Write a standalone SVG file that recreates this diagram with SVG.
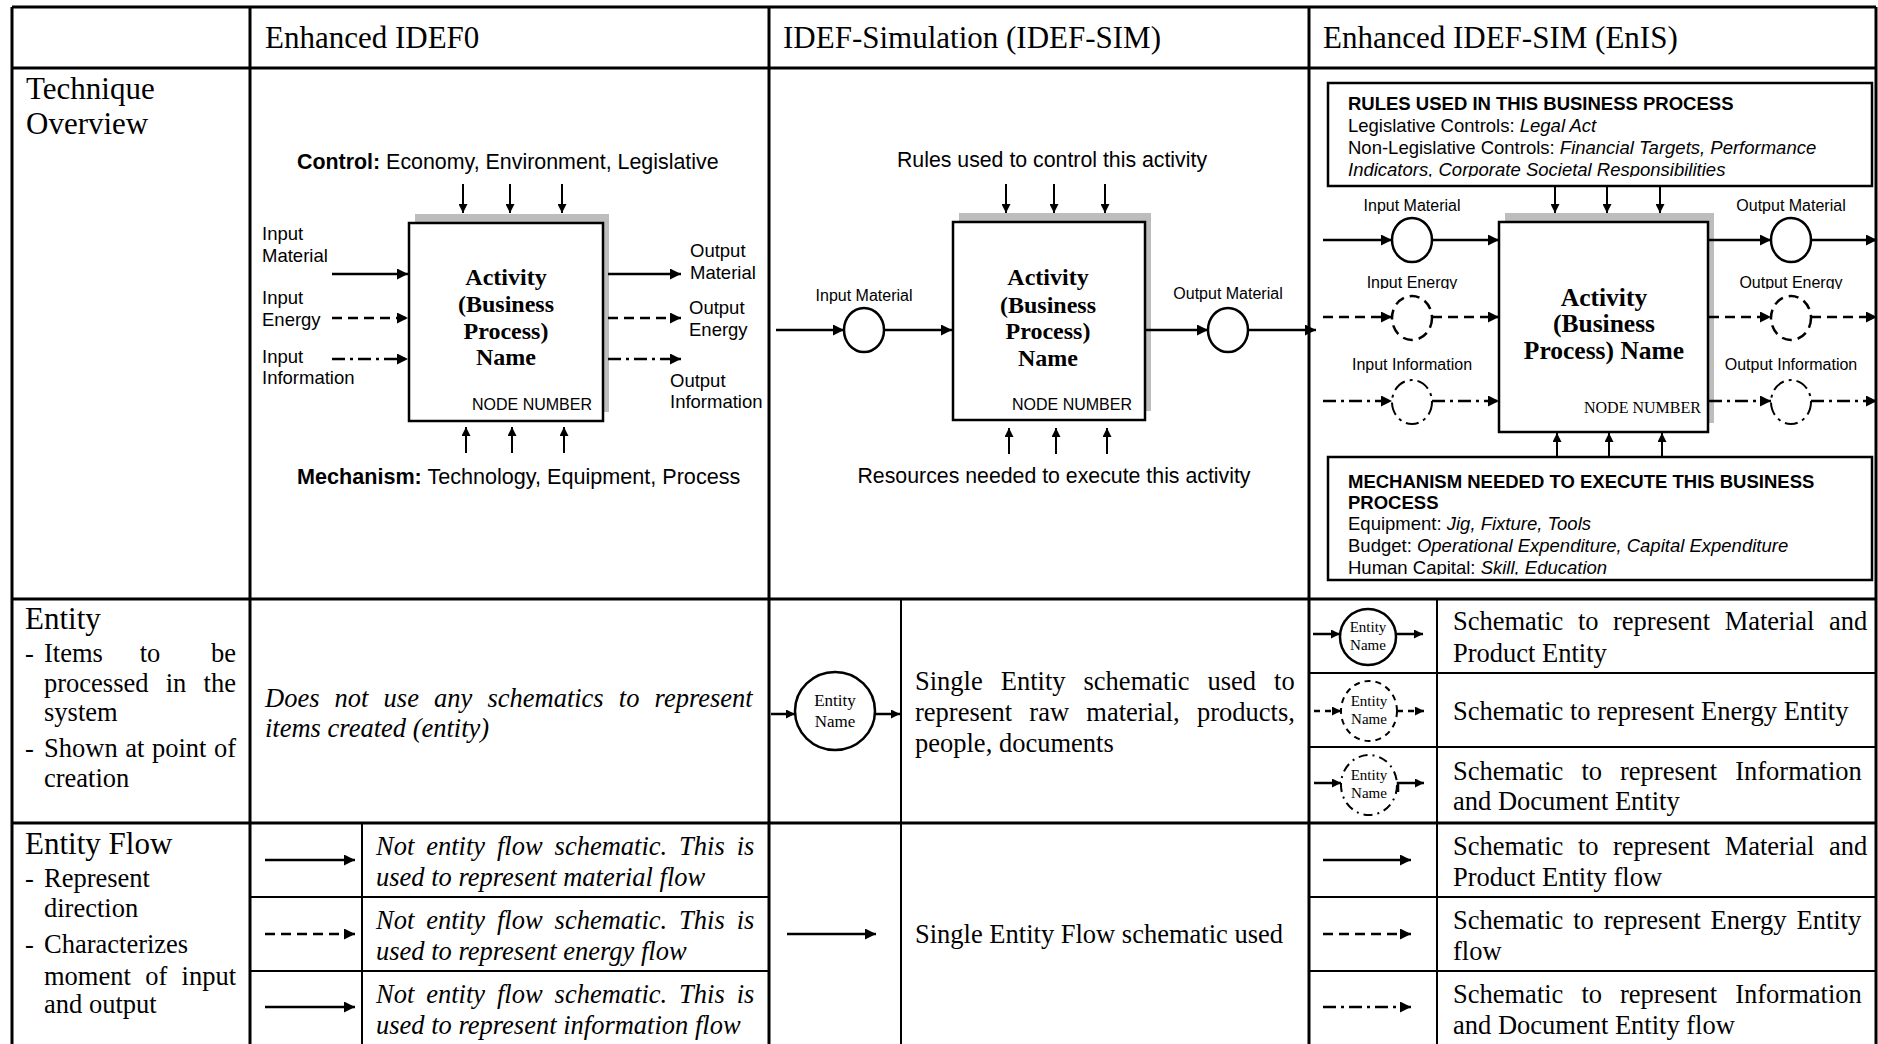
<svg xmlns="http://www.w3.org/2000/svg" width="1878" height="1044" viewBox="0 0 1878 1044">
<defs>
<style>
.sr{font-family:"Liberation Serif","Times New Roman",serif}
.ss{font-family:"Liberation Sans",Arial,sans-serif}
.hd{font-size:31px}
.bd{font-size:26.5px}
.it{font-style:italic}
.bo{font-weight:bold}
.grid{stroke:#000;stroke-width:3;fill:none}
.sub{stroke:#000;stroke-width:2;fill:none}
.cn{stroke:#000;stroke-width:2.5;fill:none}
.thin{stroke:#000;stroke-width:2;fill:none}
.da{stroke-dasharray:10 6}
.dd{stroke-dasharray:13 5 3 5}
.box{fill:#fff;stroke:#000;stroke-width:2.5}
.sh{fill:#bdbdbd}
.ell{fill:#fff;stroke:#000;stroke-width:2.5}
.ell2{fill:#fff;stroke:#000;stroke-width:2}
.lbl{font-size:21.3px}
.sm{font-size:18.5px}
.xs{font-size:16px}
.en{font-size:18.5px}
.mid{text-anchor:middle}
.end{text-anchor:end}
</style>
<marker id="a" viewBox="0 0 10 10" refX="10" refY="5" markerUnits="userSpaceOnUse" markerWidth="12" markerHeight="11" orient="auto"><path d="M0,0L10,5L0,10z" fill="#000"/></marker>
<marker id="as" viewBox="0 0 10 10" refX="10" refY="5" markerUnits="userSpaceOnUse" markerWidth="9" markerHeight="9" orient="auto"><path d="M0,0L10,5L0,10z" fill="#000"/></marker>
<clipPath id="c1"><rect x="1330" y="85" width="540" height="92"/></clipPath>
<clipPath id="c2"><rect x="1330" y="459" width="540" height="116"/></clipPath>
<clipPath id="c3"><rect x="1320" y="260" width="556" height="29"/></clipPath>
</defs>
<rect width="1878" height="1044" fill="#fff"/>

<g id="table">
<path class="grid" d="M12,7H1876M12,68H1876M12,599H1876M12,823H1876M12,7V1046M250,7V1046M769,7V1046M1309,7V1046M1876,7V1046"/>
<path class="sub" d="M901,599V1046M1437,599V1046M362,823V1046M1309,673H1876M1309,747H1876M250,897H769M250,971H769M1309,897H1876M1309,971H1876"/>
</g>

<g id="headers" class="sr hd">
<text x="265" y="48">Enhanced IDEF0</text>
<text x="783" y="48">IDEF-Simulation (IDEF-SIM)</text>
<text x="1323" y="48">Enhanced IDEF-SIM (EnIS)</text>
</g>

<g id="row-labels" class="sr">
<text class="hd" x="26" y="99">Technique</text>
<text class="hd" x="26" y="134">Overview</text>
<text class="hd" x="25" y="629">Entity</text>
<g class="bd">
<text x="25" y="662">-</text><text x="44" y="662">Items</text><text x="150" y="662" class="mid">to</text><text x="236" y="662" class="end">be</text>
<text x="44" y="692" style="word-spacing:10.6px">processed in the</text>
<text x="44" y="721">system</text>
<text x="25" y="757">-</text><text x="44" y="757" style="word-spacing:1px">Shown at point of</text>
<text x="44" y="787">creation</text>
</g>
<text class="hd" x="25" y="854">Entity Flow</text>
<g class="bd">
<text x="25" y="887">-</text><text x="44" y="887">Represent</text>
<text x="44" y="917">direction</text>
<text x="25" y="953">-</text><text x="44" y="953">Characterizes</text>
<text x="44" y="985" style="word-spacing:7.7px">moment of input</text>
<text x="44" y="1013">and output</text>
</g>
</g>

<g id="idef0-node">
<rect class="sh" x="415" y="214" width="194" height="198"/>
<rect class="box" x="409" y="223" width="194" height="198"/>
<g class="sr bo mid" font-size="24">
<text x="506" y="285">Activity</text>
<text x="506" y="312">(Business</text>
<text x="506" y="339">Process)</text>
<text x="506" y="365">Name</text>
</g>
<text class="ss xs end" x="592" y="410">NODE NUMBER</text>
</g>
<g id="idef0-labels" class="ss">
<text x="297" y="169" font-size="21.4"><tspan class="bo">Control:</tspan> Economy, Environment, Legislative</text>
<text x="297" y="484" font-size="21.6"><tspan class="bo">Mechanism:</tspan> Technology, Equipment, Process</text>
<g class="sm">
<text x="262" y="240">Input</text><text x="262" y="262">Material</text>
<text x="262" y="304">Input</text><text x="262" y="326">Energy</text>
<text x="262" y="363">Input</text><text x="262" y="384">Information</text>
<text x="690" y="257">Output</text><text x="690" y="279">Material</text>
<text x="689" y="314">Output</text><text x="689" y="336">Energy</text>
<text x="670" y="387">Output</text><text x="670" y="408">Information</text>
</g>
</g>

<g id="idefsim-node">
<rect class="sh" x="959" y="213" width="192" height="198"/>
<rect class="box" x="953" y="222" width="192" height="198"/>
<g class="sr bo mid" font-size="24">
<text x="1048" y="285">Activity</text>
<text x="1048" y="313">(Business</text>
<text x="1048" y="339">Process)</text>
<text x="1048" y="366">Name</text>
</g>
<text class="ss xs" x="1012" y="410">NODE NUMBER</text>
</g>
<g id="idefsim-entities">
<ellipse class="ell" cx="864" cy="330" rx="20" ry="22"/>
<ellipse class="ell" cx="1228" cy="330" rx="20" ry="22"/>
</g>
<g id="idefsim-labels" class="ss">
<text class="lbl mid" x="1052" y="167">Rules used to control this activity</text>
<text class="lbl mid" x="1054" y="483">Resources needed to execute this activity</text>
<text class="xs mid" x="864" y="301">Input Material</text>
<text class="xs mid" x="1228" y="299">Output Material</text>
</g>

<g id="enis-rules">
<rect class="box" x="1328" y="83" width="544" height="103"/>
<g class="ss en" clip-path="url(#c1)">
<text x="1348" y="110" class="bo">RULES USED IN THIS BUSINESS PROCESS</text>
<text x="1348" y="132">Legislative Controls: <tspan class="it">Legal Act</tspan></text>
<text x="1348" y="154">Non-Legislative Controls: <tspan class="it">Financial Targets, Performance</tspan></text>
<text x="1348" y="176" class="it">Indicators, Corporate Societal Responsibilities</text>
</g>
</g>
<g id="enis-node">
<rect class="sh" x="1505" y="213" width="209" height="210"/>
<rect class="box" x="1499" y="222" width="209" height="210"/>
<g class="sr bo mid" font-size="25.5">
<text x="1604" y="306">Activity</text>
<text x="1604" y="332">(Business</text>
<text x="1604" y="359">Process) Name</text>
</g>
<text class="sr xs" x="1584" y="413">NODE NUMBER</text>
</g>
<g id="enis-mechanism">
<rect class="box" x="1328" y="457" width="544" height="123"/>
<g class="ss en" clip-path="url(#c2)">
<text x="1348" y="488" class="bo">MECHANISM NEEDED TO EXECUTE THIS BUSINESS</text>
<text x="1348" y="509" class="bo">PROCESS</text>
<text x="1348" y="530">Equipment: <tspan class="it">Jig, Fixture, Tools</tspan></text>
<text x="1348" y="552">Budget: <tspan class="it">Operational Expenditure, Capital Expenditure</tspan></text>
<text x="1348" y="574">Human Capital: <tspan class="it">Skill, Education</tspan></text>
</g>
</g>
<g id="enis-entities">
<ellipse class="ell" cx="1412" cy="240" rx="20" ry="22"/>
<ellipse class="ell da" cx="1412" cy="318" rx="20" ry="22"/>
<ellipse class="ell2 dd" cx="1412" cy="402" rx="20" ry="22"/>
<ellipse class="ell" cx="1791" cy="240" rx="20" ry="22"/>
<ellipse class="ell da" cx="1791" cy="318" rx="20" ry="22"/>
<ellipse class="ell2 dd" cx="1791" cy="402" rx="20" ry="22"/>
</g>
<g id="enis-labels" class="ss xs mid">
<text x="1412" y="211">Input Material</text>
<text x="1791" y="211">Output Material</text>
<g clip-path="url(#c3)">
<text x="1412" y="288">Input Energy</text>
<text x="1791" y="288">Output Energy</text>
</g>
<text x="1412" y="370">Input Information</text>
<text x="1791" y="370">Output Information</text>
</g>

<g id="entity-row">
<g class="sr bd it">
<text x="265" y="707" style="word-spacing:8.5px">Does not use any schematics to represent</text>
<text x="265" y="737">items created (entity)</text>
</g>
<ellipse class="ell" cx="835" cy="711" rx="40" ry="39"/>
<g class="sr mid" font-size="17">
<text x="835" y="706">Entity</text>
<text x="835" y="727">Name</text>
</g>
<g class="sr bd">
<text x="915" y="690" style="word-spacing:11.4px">Single Entity schematic used to</text>
<text x="915" y="721" style="word-spacing:10.6px">represent raw material, products,</text>
<text x="915" y="752">people, documents</text>
</g>
<ellipse class="ell" cx="1368" cy="637" rx="28" ry="28"/>
<ellipse class="ell2" cx="1369" cy="711" rx="28" ry="30" style="stroke-dasharray:6 5"/>
<ellipse class="ell2" cx="1369" cy="785" rx="28" ry="30" style="stroke-dasharray:9 5 2 5"/>
<g class="sr mid" font-size="15">
<text x="1368" y="632">Entity</text><text x="1368" y="650">Name</text>
<text x="1369" y="706">Entity</text><text x="1369" y="724">Name</text>
<text x="1369" y="780">Entity</text><text x="1369" y="798">Name</text>
</g>
<g class="sr bd">
<text x="1453" y="630" style="word-spacing:7.9px">Schematic to represent Material and</text>
<text x="1453" y="662">Product Entity</text>
<text x="1453" y="720">Schematic to represent Energy Entity</text>
<text x="1453" y="780" style="word-spacing:11.4px">Schematic to represent Information</text>
<text x="1453" y="810">and Document Entity</text>
</g>
</g>

<g id="entity-flow-row">
<g class="sr bd it">
<text x="376" y="855" style="word-spacing:5.3px">Not entity flow schematic. This is</text>
<text x="376" y="886">used to represent material flow</text>
<text x="376" y="929" style="word-spacing:5.3px">Not entity flow schematic. This is</text>
<text x="376" y="960">used to represent energy flow</text>
<text x="376" y="1003" style="word-spacing:5.3px">Not entity flow schematic. This is</text>
<text x="376" y="1034">used to  represent information flow</text>
</g>
<text class="sr bd" x="915" y="943">Single Entity Flow schematic used</text>
<g class="sr bd">
<text x="1453" y="855" style="word-spacing:7.9px">Schematic to represent Material and</text>
<text x="1453" y="886">Product Entity flow</text>
<text x="1453" y="929" style="word-spacing:3.2px">Schematic to represent Energy Entity</text>
<text x="1453" y="960">flow</text>
<text x="1453" y="1003" style="word-spacing:11.4px">Schematic to represent Information</text>
<text x="1453" y="1034">and Document Entity flow</text>
</g>
</g>

<g id="connectors">
<path class="thin" marker-end="url(#as)" d="M463,184V213"/>
<path class="thin" marker-end="url(#as)" d="M510,184V213"/>
<path class="thin" marker-end="url(#as)" d="M562,184V213"/>
<path class="thin" marker-end="url(#as)" d="M466,453V427"/>
<path class="thin" marker-end="url(#as)" d="M512,453V427"/>
<path class="thin" marker-end="url(#as)" d="M564,453V427"/>
<path class="cn" marker-end="url(#a)" d="M332,274H408"/>
<path class="cn da" marker-end="url(#a)" d="M332,318H408"/>
<path class="cn dd" marker-end="url(#a)" d="M332,359H408"/>
<path class="cn" marker-end="url(#a)" d="M608,274H681"/>
<path class="cn da" marker-end="url(#a)" d="M608,318H681"/>
<path class="cn dd" marker-end="url(#a)" d="M608,359H681"/>
<path class="thin" marker-end="url(#as)" d="M1006,184V213"/>
<path class="thin" marker-end="url(#as)" d="M1054,184V213"/>
<path class="thin" marker-end="url(#as)" d="M1105,184V213"/>
<path class="thin" marker-end="url(#as)" d="M1009,454V428"/>
<path class="thin" marker-end="url(#as)" d="M1056,454V428"/>
<path class="thin" marker-end="url(#as)" d="M1107,454V428"/>
<path class="cn" marker-end="url(#a)" d="M776,330H844"/>
<path class="cn" marker-end="url(#a)" d="M884,330H952"/>
<path class="cn" marker-end="url(#a)" d="M1146,330H1208"/>
<path class="cn" marker-end="url(#a)" d="M1248,330H1316"/>
<path class="thin" marker-end="url(#as)" d="M1555,187V213"/>
<path class="thin" marker-end="url(#as)" d="M1607,187V213"/>
<path class="thin" marker-end="url(#as)" d="M1660,187V213"/>
<path class="thin" marker-end="url(#as)" d="M1557,457V433"/>
<path class="thin" marker-end="url(#as)" d="M1609,457V433"/>
<path class="thin" marker-end="url(#as)" d="M1662,457V433"/>
<path class="cn" marker-end="url(#a)" d="M1323,240H1392"/>
<path class="cn" marker-end="url(#a)" d="M1432,240H1499"/>
<path class="cn da" marker-end="url(#a)" d="M1323,317H1392"/>
<path class="cn da" marker-end="url(#a)" d="M1432,317H1499"/>
<path class="cn dd" marker-end="url(#a)" d="M1323,401H1392"/>
<path class="cn dd" marker-end="url(#a)" d="M1432,401H1499"/>
<path class="cn" marker-end="url(#a)" d="M1709,240H1771"/>
<path class="cn" marker-end="url(#a)" d="M1811,240H1877"/>
<path class="cn da" marker-end="url(#a)" d="M1709,317H1771"/>
<path class="cn da" marker-end="url(#a)" d="M1811,317H1877"/>
<path class="cn dd" marker-end="url(#a)" d="M1709,401H1771"/>
<path class="cn dd" marker-end="url(#a)" d="M1811,401H1877"/>
<path class="cn" marker-end="url(#as)" d="M771,714H795"/>
<path class="cn" marker-end="url(#as)" d="M875,714H900"/>
<path class="cn" marker-end="url(#as)" d="M1313,634H1340"/>
<path class="cn" marker-end="url(#as)" d="M1396,634H1423"/>
<path class="cn" style="stroke-dasharray:6 5" marker-end="url(#as)" d="M1314,711H1341"/>
<path class="cn" style="stroke-dasharray:6 5" marker-end="url(#as)" d="M1397,711H1424"/>
<path class="cn" marker-end="url(#as)" d="M1314,783H1341"/>
<path class="cn" marker-end="url(#as)" d="M1398,792V783H1424"/>
<path class="cn" marker-end="url(#a)" d="M265,860H355"/>
<path class="cn da" marker-end="url(#a)" d="M265,934H355"/>
<path class="cn" marker-end="url(#a)" d="M265,1007H355"/>
<path class="cn" marker-end="url(#a)" d="M787,934H876"/>
<path class="cn" marker-end="url(#a)" d="M1323,860H1411"/>
<path class="cn da" marker-end="url(#a)" d="M1323,934H1411"/>
<path class="cn dd" marker-end="url(#a)" d="M1323,1007H1411"/>
</g>
</svg>
